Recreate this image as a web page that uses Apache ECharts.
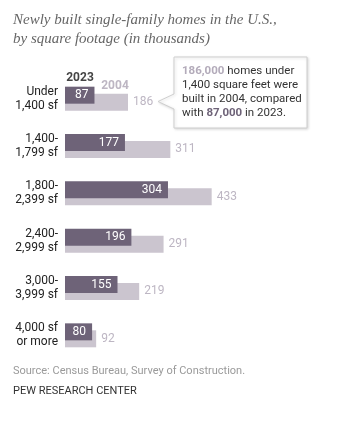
<!DOCTYPE html>
<html>
<head>
<meta charset="utf-8">
<script src="https://cdn.jsdelivr.net/npm/echarts@6/dist/echarts.min.js"></script>
<style>
  html, body { margin: 0; padding: 0; background: #fff; }
  #chart { width: 354px; height: 423px; }
</style>
</head>
<body>
<div id="chart"></div>
<script>
// size categories, top to bottom
const categories = ['Under\n1,400 sf', '1,400-\n1,799 sf', '1,800-\n2,399 sf', '2,400-\n2,999 sf', '3,000-\n3,999 sf', '4,000 sf\nor more']
// homes built, in thousands
const homes2023 = [87, 177, 304, 196, 155, 80]
const homes2004 = [186, 311, 433, 291, 219, 92]

const dark = '#6e6378'
const light = '#cbc5cf'
const lightText = '#bdb6c3'
const font = 'Roboto, "Liberation Sans", sans-serif'

const chart = echarts.init(document.getElementById('chart'))
chart.setOption({
  animation: false,
  grid: { left: 65, top: 75, width: 271, height: 284 },
  xAxis: {
    type: 'value', min: 0, max: 800, show: false
  },
  yAxis: {
    type: 'category',
    inverse: true,
    data: categories,
    axisLine: { show: false },
    axisTick: { show: false },
    axisLabel: {
      margin: 7,
      color: '#222',
      fontSize: 12,
      lineHeight: 14,
      fontFamily: font,
      align: 'right'
    }
  },
  series: [
    {
      name: '2023',
      type: 'bar',
      data: homes2023,
      barWidth: 17,
      barGap: '-59%',
      z: 3,
      itemStyle: { color: dark },
      label: {
        show: true, position: 'insideRight', distance: 6,
        color: '#fff', fontSize: 12, fontFamily: font
      }
    },
    {
      name: '2004',
      type: 'bar',
      data: homes2004,
      barWidth: 17,
      z: 2,
      itemStyle: { color: light },
      label: {
        show: true, position: 'right', distance: 5,
        color: lightText, fontSize: 12, fontFamily: font
      }
    }
  ],
  graphic: [
    {
      type: 'text', left: 13, top: 11,
      style: {
        text: 'Newly built single-family homes in the U.S.,\nby square footage (in thousands)',
        font: 'italic 15px "Liberation Serif", serif',
        lineHeight: 19,
        fill: '#666'
      }
    },
    // series labels above the first row
    {
      type: 'text', x: 80, y: 78,
      style: { text: '2023', font: 'bold 12px ' + font, fill: '#444', align: 'center', verticalAlign: 'middle' }
    },
    {
      type: 'text', x: 115, y: 86,
      style: { text: '2004', font: 'bold 12px ' + font, fill: lightText, align: 'center', verticalAlign: 'middle' }
    },
    // callout box
    {
      type: 'polygon',
      shape: { points: [[174, 57], [307, 57], [307, 128], [174, 128], [174, 109], [158, 101.5], [174, 94]] },
      style: {
        fill: '#fff', stroke: '#cfcfcf', lineWidth: 1,
        shadowBlur: 3, shadowColor: 'rgba(0,0,0,0.15)', shadowOffsetX: 1, shadowOffsetY: 1
      }
    },
    {
      type: 'text', left: 182, top: 64,
      style: {
        text: '{a|186,000} homes under\n1,400 square feet were\nbuilt in 2004, compared\nwith {b|87,000} in 2023.',
        font: '11.5px ' + font,
        lineHeight: 14,
        fill: '#333',
        rich: {
          a: { fontWeight: 'bold', fontSize: 11.5, fontFamily: font, fill: '#b3abba', lineHeight: 14 },
          b: { fontWeight: 'bold', fontSize: 11.5, fontFamily: font, fill: dark, lineHeight: 14 }
        }
      }
    },
    {
      type: 'text', left: 13, top: 366,
      style: { text: 'Source: Census Bureau, Survey of Construction.', font: '11px ' + font, fill: '#9a9a9a' }
    },
    {
      type: 'text', left: 13, top: 386,
      style: { text: 'PEW RESEARCH CENTER', font: '11px ' + font, fill: '#333' }
    }
  ]
})
</script>
</body>
</html>
